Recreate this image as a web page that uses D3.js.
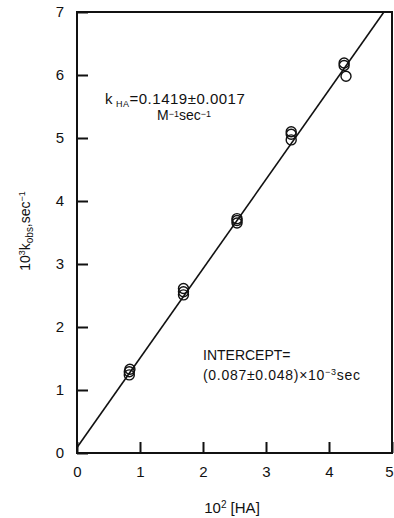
<!DOCTYPE html>
<html>
<head>
<meta charset="utf-8">
<script src="https://cdn.jsdelivr.net/npm/d3@7"></script>
<style>
    body { margin: 0; background: #fff; }
    text { font-family: 'Liberation Sans', Arial, sans-serif; fill: #111; }
</style>
</head>
<body>
<div id="chart"></div>
<script>
// Measured points: 10^2 [HA] vs 10^3 k_obs
const concHA = [0.83, 0.83, 0.84, 1.69, 1.69, 1.69, 2.54, 2.54, 2.54, 3.40, 3.40, 3.40, 4.24, 4.24, 4.27];
const kObs = [1.24, 1.29, 1.33, 2.51, 2.56, 2.61, 3.65, 3.69, 3.72, 4.97, 5.06, 5.10, 6.15, 6.19, 5.98];

// Fitted line: slope kHA (scaled) and intercept
const fitSlope = 1.419;
const fitIntercept = 0.087;

const xTicks = [0, 1, 2, 3, 4, 5];
const yTicks = [0, 1, 2, 3, 4, 5, 6, 7];

const margin = { top: 12, right: 2, bottom: 65, left: 77 };
const width = 394 - margin.left - margin.right;
const height = 518 - margin.top - margin.bottom;

const svg = d3.select('#chart')
    .append('svg')
    .attr('width', width + margin.left + margin.right)
    .attr('height', height + margin.top + margin.bottom)
    .append('g')
    .attr('transform', 'translate(' + margin.left + ',' + margin.top + ')');

const xScale = d3.scaleLinear().domain([0, 5]).range([0, width]);
const yScale = d3.scaleLinear().domain([0, 7]).range([height, 0]);

// Axes with inward ticks
const xAxis = d3.axisBottom(xScale)
    .tickValues(xTicks)
    .tickFormat(d3.format('d'))
    .tickSizeInner(-11)
    .tickSizeOuter(0)
    .tickPadding(13);

const yAxis = d3.axisLeft(yScale)
    .tickValues(yTicks)
    .tickFormat(d3.format('d'))
    .tickSizeInner(-11)
    .tickSizeOuter(0)
    .tickPadding(13);

const gx = svg.append('g')
    .attr('class', 'x-axis')
    .attr('transform', 'translate(0,' + height + ')')
    .call(xAxis);

const gy = svg.append('g')
    .attr('class', 'y-axis')
    .call(yAxis);

[gx, gy].forEach((g) => {
    g.select('.domain').remove();
    g.selectAll('line').attr('stroke', '#111').attr('stroke-width', 2);
    g.selectAll('text').attr('font-size', 15).attr('fill', '#111');
});

// last x label sits against the page edge
gx.selectAll('.tick text').filter((d) => d === 5).attr('text-anchor', 'end').attr('dx', 1);

// Frame
svg.append('rect')
    .attr('x', 0)
    .attr('y', 0)
    .attr('width', width)
    .attr('height', height)
    .attr('fill', 'none')
    .attr('stroke', '#111')
    .attr('stroke-width', 2);

// Fit line, clipped to the top of the plot
const xEnd = (7 - fitIntercept) / fitSlope;
svg.append('path')
    .datum([0, xEnd])
    .attr('d', d3.line()
        .x((d) => xScale(d))
        .y((d) => yScale(fitIntercept + fitSlope * d))
    )
    .attr('fill', 'none')
    .attr('stroke', '#111')
    .attr('stroke-width', 1.6);

// Points
svg.selectAll('.pt')
    .data(concHA.map((x, i) => ({ x, y: kObs[i] })))
    .enter()
    .append('circle')
    .attr('class', 'pt')
    .attr('cx', (d) => xScale(d.x))
    .attr('cy', (d) => yScale(d.y))
    .attr('r', 5)
    .attr('fill', 'none')
    .attr('stroke', '#111')
    .attr('stroke-width', 1.4);

// Annotations
const k = svg.append('text')
    .attr('x', 28)
    .attr('y', 92)
    .attr('font-size', 15)
    .attr('letter-spacing', 0.5);
k.append('tspan').text('k');
k.append('tspan').attr('font-size', 9).attr('dy', 3).attr('dx', 3).text('HA');
k.append('tspan').attr('dy', -3).text('=0.1419\u00b10.0017');

const unit = svg.append('text')
    .attr('x', 80)
    .attr('y', 108)
    .attr('font-size', 14);
unit.append('tspan').text('M');
unit.append('tspan').attr('font-size', 9).attr('dy', -3).text('\u22121');
unit.append('tspan').attr('dy', 3).text('sec');
unit.append('tspan').attr('font-size', 9).attr('dy', -3).text('\u22121');

svg.append('text')
    .attr('x', 126)
    .attr('y', 348)
    .attr('font-size', 14)
    .text('INTERCEPT=');

const ic = svg.append('text')
    .attr('x', 126)
    .attr('y', 368)
    .attr('font-size', 14)
    .attr('letter-spacing', 0.7);
ic.append('tspan').text('(0.087\u00b10.048)\u00d710');
ic.append('tspan').attr('font-size', 9).attr('dy', -5).text('\u22123');
ic.append('tspan').attr('dy', 5).text('sec');

// Axis titles
const xt = svg.append('text')
    .attr('x', 155)
    .attr('y', height + 60)
    .attr('text-anchor', 'middle')
    .attr('font-size', 15);
xt.append('tspan').text('10');
xt.append('tspan').attr('font-size', 10).attr('dy', -5).text('2');
xt.append('tspan').attr('dy', 5).text(' [HA]');

const yt = svg.append('text')
    .attr('transform', 'translate(' + (-47) + ',' + 219 + ') rotate(-90)')
    .attr('text-anchor', 'middle')
    .attr('font-size', 14);
yt.append('tspan').text('10');
yt.append('tspan').attr('font-size', 9).attr('dy', -5).text('3');
yt.append('tspan').attr('dy', 5).text('k');
yt.append('tspan').attr('font-size', 10).attr('dy', 3).text('obs');
yt.append('tspan').attr('dy', -3).text(',sec');
yt.append('tspan').attr('font-size', 9).attr('dy', -5).text('\u22121');
</script>
</body>
</html>
